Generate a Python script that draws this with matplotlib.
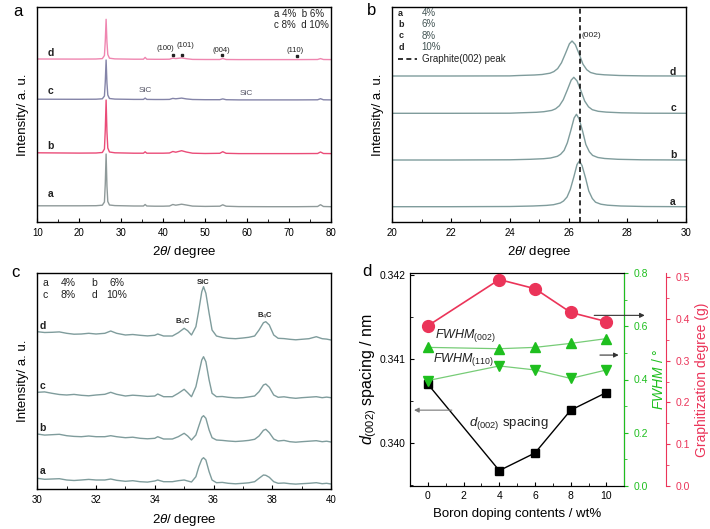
import matplotlib
matplotlib.use("Agg")
import matplotlib.pyplot as plt
from matplotlib.ticker import MultipleLocator, FormatStrFormatter

plt.rcParams['font.family'] = ['Liberation Sans', 'DejaVu Sans']
plt.rcParams['mathtext.fontset'] = 'custom'
plt.rcParams['mathtext.rm'] = 'Liberation Sans'
plt.rcParams['mathtext.it'] = 'Liberation Sans:italic'
plt.rcParams['mathtext.bf'] = 'Liberation Sans:bold'

# ---------------- Panel a : wide-range XRD (stacked, a.u.) ----------------
a_x = [10, 20, 24, 25.5, 26.0, 26.2, 26.4, 26.6, 26.8, 27.2, 28.5, 33, 35.3, 35.7, 36.1, 38, 40,
       41.5, 42.3, 43, 44.4, 45.5, 47, 50, 53.5, 54.2, 55, 58, 65, 72, 76.8, 77.5, 78.2, 80]
a_4 = [16.2, 16.2, 16.3, 16.8, 20, 38, 68, 36, 20.5, 17, 16.4, 16, 16, 17.5, 16, 15.8, 15.8,
       16, 17.5, 16.8, 17.8, 17, 15.9, 15.6, 15.8, 17.2, 15.8, 15.4, 15.3, 15.3, 15.5, 17.3, 15.5, 15.3]
a_6 = [69.2, 68.9, 69, 69.5, 73, 92, 122, 90, 74, 70, 69.2, 68.8, 68.8, 70.2, 68.8, 68.8, 68.8,
       69, 70.5, 69.8, 71.3, 70, 68.8, 68.5, 68.7, 70.3, 68.7, 68.4, 68.4, 68.4, 68.5, 70, 68.5, 68.4]
a_8 = [122.8, 122.7, 122.8, 123.2, 126, 140, 162, 139, 127, 123.5, 122.9, 122.6, 122.6, 123.9, 122.6, 122.5, 122.5,
       122.6, 123.6, 123.2, 123.9, 123.1, 122.5, 122.3, 122.3, 123.1, 122.3, 122.1, 122.1, 122.1, 122.2, 123.3, 122.2, 122.1]
a_10 = [163, 162.9, 163, 163.4, 166.5, 181, 202.7, 180, 167.5, 163.8, 163.1, 162.8, 162.8, 164.6, 162.8, 162.7, 162.7,
        162.8, 163.9, 163.4, 164.1, 163.3, 162.6, 162.5, 162.5, 163.5, 162.5, 162.4, 162.4, 162.4, 162.5, 163.4, 162.5, 162.4]

# ---------------- Panel b : (002) peak region ----------------
b_x4 = [20, 22, 24, 24.79, 25.25, 25.49, 25.72, 25.83, 25.95, 26.06, 26.18, 26.29, 26.37, 26.46, 26.58, 26.69,
        26.81, 26.92, 27.1, 27.33, 27.78, 28.6, 30]
b_y4 = [15.3, 15.3, 15.5, 16.0, 16.6, 17.3, 19.0, 21.0, 25.0, 32.5, 45.0, 57.5, 61.0, 56.5, 44.0, 31.0,
        23.5, 19.8, 17.8, 16.8, 16.0, 15.5, 15.3]
b_x6 = [20, 22, 24, 24.69, 25.15, 25.39, 25.62, 25.73, 25.85, 25.96, 26.08, 26.19, 26.27, 26.36, 26.48, 26.59,
        26.71, 26.82, 27.0, 27.23, 27.68, 28.5, 30]
b_y6 = [62.0, 62.0, 62.2, 62.7, 63.3, 64.0, 65.7, 67.7, 71.6, 79.2, 91.7, 104.0, 107.7, 103.1, 90.8, 77.5,
        70.2, 66.6, 64.5, 63.5, 62.7, 62.2, 62.0]
b_x8 = [20, 22, 24, 24.37, 24.9, 25.16, 25.43, 25.56, 25.69, 25.82, 25.96, 26.09, 26.18, 26.29, 26.42, 26.55,
        26.68, 26.81, 27.01, 27.28, 27.8, 28.6, 30]
b_y8 = [108.7, 108.7, 108.8, 109.2, 109.7, 110.3, 111.6, 113.2, 116.3, 122.2, 132.1, 141.8, 144.7, 141.1, 131.4, 121.0,
        115.2, 112.3, 110.7, 109.9, 109.2, 108.8, 108.7]
b_x10 = [20, 22, 24, 24.31, 24.84, 25.1, 25.37, 25.5, 25.63, 25.76, 25.9, 26.03, 26.12, 26.23, 26.36, 26.49,
         26.62, 26.75, 26.95, 27.22, 27.74, 28.6, 30]
b_y10 = [146, 146, 146.1, 146.5, 147.0, 147.5, 148.8, 150.4, 153.4, 159.2, 168.8, 178.2, 181.0, 177.5, 168.1, 157.9,
         152.3, 149.5, 147.9, 147.2, 146.5, 146.1, 146.0]
graphite_002 = 26.4

# ---------------- Panel c : SiC / B4C region ----------------
c_x = [30.0, 30.25, 30.5, 30.75, 31.0, 31.25, 31.5, 31.75, 32.0, 32.3, 32.5, 32.7, 33.0, 33.25, 33.5, 33.75,
       34.0, 34.1, 34.3, 34.6, 34.8, 35.0, 35.12, 35.25, 35.4, 35.5, 35.6, 35.66, 35.74, 35.85, 35.95, 36.1,
       36.3, 36.5, 36.75, 37.0, 37.2, 37.4, 37.55, 37.7, 37.78, 37.9, 38.05, 38.2, 38.4, 38.6, 38.8, 39.0,
       39.25, 39.5, 39.7, 39.85, 40.0]
c_4 = [11, 10.0, 10.3, 10.6, 9.3, 8.8, 9.3, 9.9, 9.3, 9.3, 10.3, 9, 8, 8.6, 7.6, 7.2,
       8.3, 9.3, 7.6, 7.6, 8.6, 9.3, 8.3, 7.3, 12.6, 22.6, 30, 31.6, 29.3, 17.6, 9.3, 6.6,
       6.9, 6, 5.5, 6, 6.5, 7.6, 11, 14.3, 14, 12, 7.6, 6, 6.3, 5.6, 5.2, 5.6,
       6.0, 6.6, 5.6, 6.0, 5.3]
c_6 = [55.3, 54.2, 54.6, 55.0, 53.6, 52.9, 52.6, 53.3, 52.6, 52.6, 53.6, 52.6, 51.6, 52.1, 51, 50.5,
       51, 52.6, 50.3, 50.3, 52.6, 56, 53.3, 49.3, 54.3, 63.3, 72, 73.6, 71, 59.3, 51.6, 49.3,
       48.9, 48.3, 47.8, 48.3, 48.9, 50, 53.3, 59, 60, 56.6, 50.3, 48.3, 48.9, 47.6, 47.1, 47.6,
       48.1, 48.6, 47.6, 48.1, 47.3]
c_8 = [97, 97.4, 96, 94.8, 94.3, 94.9, 94, 93.5, 94.3, 95, 97, 95, 93.3, 94.1, 93.6, 92.9,
       93.3, 95.3, 92.6, 92.6, 96, 100, 96.6, 92.6, 102.6, 116, 129.3, 132.6, 127.6, 109.3, 96, 92.6,
       92.8, 92, 91.4, 91.6, 92.4, 93.3, 97.6, 104.3, 105.3, 102, 94.3, 92, 92.5, 91.6, 91.0, 91.6,
       92.1, 92.6, 91.6, 92.2, 91.6]
c_10 = [157.6, 156.8, 157, 157.4, 156, 155.1, 155.3, 156.0, 155.3, 156, 158.3, 156, 154.3, 154.8, 154, 153.4,
        154, 155.3, 153.3, 153.3, 156.6, 161, 158.6, 154.3, 162.6, 179.3, 197.6, 202.6, 196, 176, 159.3, 153.3,
        151.8, 151, 150.6, 151.3, 152.0, 153.3, 159.3, 166.6, 167.6, 164.3, 154.3, 151, 150.7, 150, 149.5, 150,
        150.6, 152.6, 150.6, 150.2, 149.3]

# ---------------- Panel d : summary ----------------
boron = [0, 4, 6, 8, 10]
d002 = [0.34070, 0.33967, 0.33988, 0.34039, 0.34060]
fwhm002 = [0.521, 0.516, 0.521, 0.536, 0.554]
fwhm110 = [0.396, 0.451, 0.436, 0.404, 0.436]
graph_deg = [0.384, 0.495, 0.473, 0.416, 0.394]

W, H = 710, 529
fig = plt.figure(figsize=(W / 100, H / 100), dpi=100)


def px_axes(l, t, r, b):
    return fig.add_axes([l / W, 1 - b / H, (r - l) / W, (b - t) / H])


def style_xrd(ax):
    ax.set_yticks([])
    ax.tick_params(axis='x', direction='in', length=3, labelsize=7, pad=4, top=False)
    ax.tick_params(axis='x', which='minor', direction='in', length=2, top=False)
    for s in ax.spines.values():
        s.set_linewidth(1.0)


TXT = '#222222'

# ---- a ----
axa = px_axes(37.3, 7, 331, 222)
cols_a = ['#8f9a9a', '#ea4c78', '#8484a8', '#ef86b0']
for y, c in zip([a_4, a_6, a_8, a_10], cols_a):
    axa.plot(a_x, y, color=c, lw=1.0)
axa.set_xlim(10, 80)
axa.set_ylim(0, 215)
axa.xaxis.set_major_locator(MultipleLocator(10))
axa.xaxis.set_minor_locator(MultipleLocator(5))
style_xrd(axa)
axa.set_xlabel(r'2$\it{\theta}$/ degree', fontsize=9.5, labelpad=5)
axa.set_ylabel('Intensity/ a. u.', fontsize=9.5, labelpad=6)
for lab, yy in zip(['a', 'b', 'c', 'd'], [27.7, 76, 131.3, 169.3]):
    axa.text(13.2, yy, lab, fontsize=7.5, fontweight='bold', color=TXT, ha='center', va='center')
axa.text(0.805, 0.967, 'a 4%  b 6%', transform=axa.transAxes, fontsize=7, va='center', color=TXT)
axa.text(0.805, 0.916, 'c 8%  d 10%', transform=axa.transAxes, fontsize=7, va='center', color=TXT)
for t, xx, yy in [('(100)', 40.6, 173), ('(101)', 45.4, 176.5), ('(004)', 53.9, 171.3), ('(110)', 71.4, 171.3)]:
    axa.text(xx, yy, t, fontsize=5.5, ha='center', va='center', color=TXT)
axa.plot([42.3, 44.5, 54.0, 71.9], [167.5, 167.5, 167.5, 166.5], 's', ms=1.5, color='#222222')
axa.text(35.8, 131.3, 'SiC', fontsize=6, ha='center', va='center', color='#555566')
axa.text(59.9, 128.7, 'SiC', fontsize=6, ha='center', va='center', color='#555566')
fig.text(17.5 / W, 1 - 11 / H, 'a', fontsize=12, ha='center', va='center')

# ---- b ----
axb = px_axes(392.3, 7, 686, 222)
gc = '#7f9c9c'
for xs, ys in [(b_x4, b_y4), (b_x6, b_y6), (b_x8, b_y8), (b_x10, b_y10)]:
    axb.plot(xs, ys, color=gc, lw=1.0)
axb.axvline(graphite_002, color='#111111', ls=(0, (3, 2)), lw=1.2)
axb.set_xlim(20, 30)
axb.set_ylim(0, 215)
axb.xaxis.set_major_locator(MultipleLocator(2))
axb.xaxis.set_minor_locator(MultipleLocator(1))
style_xrd(axb)
axb.set_xlabel(r'2$\it{\theta}$/ degree', fontsize=9.5, labelpad=5)
axb.set_ylabel('Intensity/ a. u.', fontsize=9.5, labelpad=6)
for lab, yy in zip(['a', 'b', 'c', 'd'], [19.7, 67, 113.7, 150.3]):
    axb.text(29.56, yy, lab, fontsize=7.5, fontweight='bold', color=TXT, ha='center', va='center')
rows = [0.971, 0.92, 0.867, 0.813]
for lab, pct, yy in zip(['a', 'b', 'c', 'd'], ['4%', '6%', '8%', '10%'], rows):
    axb.text(0.02, yy, lab, transform=axb.transAxes, fontsize=6.5, fontweight='bold', va='center', color=TXT)
    axb.text(0.1, yy, pct, transform=axb.transAxes, fontsize=7, va='center', color='#445555')
axb.plot([0.02, 0.083], [0.757, 0.757], transform=axb.transAxes, color='#111111', ls=(0, (3, 2)), lw=1.2)
axb.text(0.1, 0.757, 'Graphite(002) peak', transform=axb.transAxes, fontsize=7, va='center', color=TXT)
axb.text(26.43, 186.3, '(002)', fontsize=6, va='center', ha='left', color=TXT)
fig.text(371.7 / W, 1 - 10.7 / H, 'b', fontsize=12, ha='center', va='center')

# ---- c ----
axc = px_axes(37.3, 273.3, 331, 489.3)
for y in [c_4, c_6, c_8, c_10]:
    axc.plot(c_x, y, color=gc, lw=1.0)
axc.set_xlim(30, 40)
axc.set_ylim(0, 216)
axc.xaxis.set_major_locator(MultipleLocator(2))
axc.xaxis.set_minor_locator(MultipleLocator(1))
style_xrd(axc)
axc.set_xlabel(r'2$\it{\theta}$/ degree', fontsize=9.5, labelpad=5)
axc.set_ylabel('Intensity/ a. u.', fontsize=9.5, labelpad=6)
for lab, yy in zip(['a', 'b', 'c', 'd'], [18.6, 61, 103.3, 163.6]):
    axc.text(30.18, yy, lab, fontsize=7.5, fontweight='bold', color=TXT, ha='center', va='center')
for lab, xx, yy in [('a', 30.26, 206), ('4%', 31.06, 206), ('b', 31.94, 206), ('6%', 32.7, 206),
                    ('c', 30.26, 194.3), ('8%', 31.06, 194.3), ('d', 31.94, 194.3), ('10%', 32.7, 194.3)]:
    axc.text(xx, yy, lab, fontsize=7.5, ha='center', va='center', color=TXT)
axc.text(35.65, 206.6, 'SiC', fontsize=5.5, fontweight='bold', ha='center', va='center', color=TXT)
axc.text(34.95, 167.6, r'B$_4$C', fontsize=5.5, fontweight='bold', ha='center', va='center', color=TXT)
axc.text(37.75, 173.3, r'B$_4$C', fontsize=5.5, fontweight='bold', ha='center', va='center', color=TXT)
fig.text(15 / W, 1 - 272.7 / H, 'c', fontsize=12, ha='center', va='center')

# ---- d ----
GREEN = '#1fbf1f'
RED = '#eb3459'
axd = px_axes(410, 273.3, 624.3, 485.7)
axd.plot(boron, d002, color='black', lw=1.0, marker='s', ms=6, mfc='black', mec='black', zorder=3)
axd.set_xlim(-1, 11)
axd.set_ylim(0.33949, 0.34202)
axd.xaxis.set_major_locator(MultipleLocator(2))
axd.xaxis.set_minor_locator(MultipleLocator(1))
axd.yaxis.set_major_locator(MultipleLocator(0.001))
axd.yaxis.set_minor_locator(MultipleLocator(0.0005))
axd.yaxis.set_major_formatter(FormatStrFormatter('%.3f'))
axd.tick_params(direction='in', labelsize=7.5, length=3, top=False, right=False)
axd.tick_params(which='minor', direction='in', length=2, top=False, right=False)
axd.set_xlabel('Boron doping contents / wt%', fontsize=9.5, labelpad=5)
axd.set_ylabel(r'$d_{\rm (002)}$ spacing / nm', fontsize=11.5, labelpad=0)

axg = axd.twinx()
axg.plot(boron, fwhm002, color='#77cc77', lw=0.9, marker='^', ms=7.5, mfc=GREEN, mec=GREEN, zorder=3)
axg.plot(boron, fwhm110, color='#77cc77', lw=0.9, marker='v', ms=7.5, mfc=GREEN, mec=GREEN, zorder=3)
axg.set_ylim(0, 0.8)
axg.yaxis.set_major_locator(MultipleLocator(0.2))
axg.yaxis.set_minor_locator(MultipleLocator(0.1))
axg.tick_params(axis='y', colors=GREEN, labelsize=7.5, length=3, direction='out')
axg.tick_params(axis='y', which='minor', colors=GREEN, length=2, direction='out')
axg.spines['right'].set_color(GREEN)
axg.set_ylabel(r'$\it{FWHM}$ / °', color=GREEN, fontsize=10, labelpad=2)

axr = axd.twinx()
axr.spines['right'].set_position(('axes', 1.196))
axr.spines['right'].set_color(RED)
axr.plot(boron, graph_deg, color=RED, lw=1.2, marker='o', ms=8.5, mfc=RED, mec=RED, zorder=3)
axr.set_ylim(0, 0.51)
axr.yaxis.set_major_locator(MultipleLocator(0.1))
axr.yaxis.set_minor_locator(MultipleLocator(0.05))
axr.tick_params(axis='y', colors=RED, labelsize=7.5, length=3, direction='out')
axr.tick_params(axis='y', which='minor', colors=RED, length=2, direction='out')
axr.set_ylabel('Graphitization degree (g)', color=RED, fontsize=10, labelpad=4)
for sp in ['top', 'left', 'bottom']:
    axr.spines[sp].set_visible(False)

axd.text(0.117, 0.709, r'$\it{FWHM}_{\rm (002)}$', transform=axd.transAxes, fontsize=9, va='center', color=TXT)
axd.text(0.105, 0.592, r'$\it{FWHM}_{\rm (110)}$', transform=axd.transAxes, fontsize=9, va='center', color=TXT)
axd.text(0.273, 0.294, r'$d_{\rm (002)}$ spacing', transform=axd.transAxes, fontsize=9.5, va='center', color=TXT)

axr.annotate('', xy=(12.3, 0.409), xytext=(9.16, 0.409), annotation_clip=False,
             arrowprops=dict(arrowstyle='-|>', color='#333333', lw=0.8, mutation_scale=7))
axg.annotate('', xy=(10.84, 0.492), xytext=(9.48, 0.492), annotation_clip=False,
             arrowprops=dict(arrowstyle='-|>', color='#333333', lw=0.8, mutation_scale=7))
axd.annotate('', xy=(-0.93, 0.34039), xytext=(1.5, 0.34039), annotation_clip=False,
             arrowprops=dict(arrowstyle='-|>', color='#777777', lw=0.8, mutation_scale=7))
fig.text(366.7 / W, 1 - 271.7 / H, 'd', fontsize=12, ha='center', va='center')

fig.savefig('out.png', dpi=100)
